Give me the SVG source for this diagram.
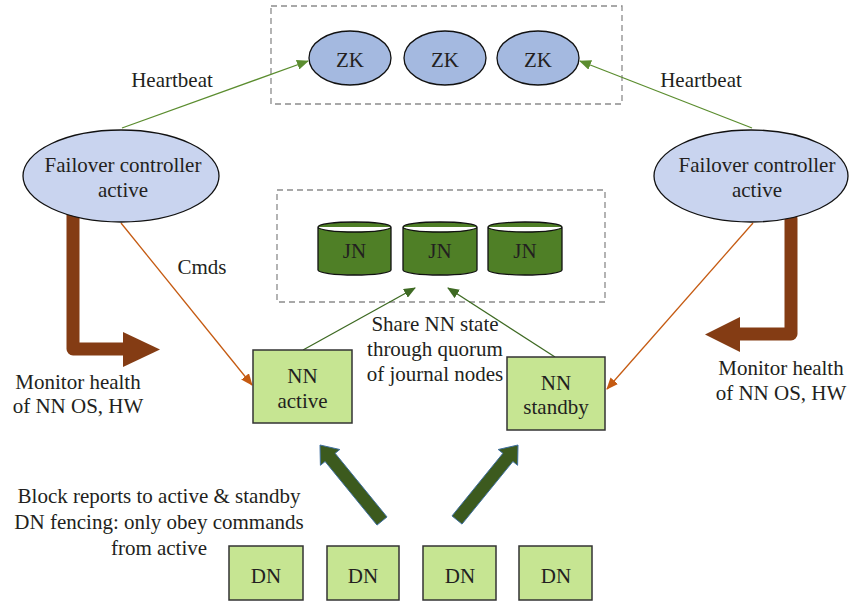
<svg xmlns="http://www.w3.org/2000/svg" width="849" height="603" viewBox="0 0 849 603">
<defs>
<style>
text{font-family:"Liberation Serif","DejaVu Serif",serif;font-size:21px;fill:#231f20;text-anchor:middle}
.dash{fill:none;stroke:#8c8c8c;stroke-width:1.3;stroke-dasharray:6,4}
.zk{fill:#a4b9e0;stroke:#111;stroke-width:1.3}
.fc{fill:#c9d4ef;stroke:#111;stroke-width:1.3}
.box{fill:#c6e592;stroke:#333;stroke-width:1.5}
.jn{fill:#4f7f26;stroke:#111;stroke-width:1.3}
.hb{fill:none;stroke:#5b8d2f;stroke-width:1.3}
.sh{fill:none;stroke:#3e6a23;stroke-width:1.3}
.cm{fill:none;stroke:#c55a11;stroke-width:1.3}
.br{fill:none;stroke:#843c14;stroke-width:13;stroke-linejoin:round;stroke-linecap:round}
.brh{fill:#843c14}
.fat{fill:#3c5a1e;stroke:#3f6fa0;stroke-width:1}
</style>
<marker id="mHb" markerWidth="12" markerHeight="10" refX="11" refY="5" orient="auto" markerUnits="userSpaceOnUse"><path d="M0,0 L12,5 L0,10 z" fill="#5b8d2f"/></marker>
<marker id="mSh" markerWidth="12" markerHeight="10" refX="11" refY="5" orient="auto" markerUnits="userSpaceOnUse"><path d="M0,0 L12,5 L0,10 z" fill="#3e6a23"/></marker>
<marker id="mCm" markerWidth="12" markerHeight="10" refX="11" refY="5" orient="auto" markerUnits="userSpaceOnUse"><path d="M0,0 L12,5 L0,10 z" fill="#c55a11"/></marker>
</defs>
<rect width="849" height="603" fill="#fff"/>

<g id="zk-cluster">
<rect class="dash" x="271" y="6" width="351" height="98"/>
</g>
<g id="jn-cluster">
<rect class="dash" x="277" y="190" width="328" height="112"/>
</g>

<g id="connectors">
<line class="hb" x1="122" y1="128" x2="308" y2="61" marker-end="url(#mHb)"/>
<line class="hb" x1="752" y1="128" x2="580" y2="61" marker-end="url(#mHb)"/>
<line class="cm" x1="121" y1="223" x2="252" y2="385" marker-end="url(#mCm)"/>
<line class="cm" x1="753" y1="223" x2="607" y2="389" marker-end="url(#mCm)"/>
<line class="sh" x1="303" y1="350" x2="415" y2="288" marker-end="url(#mSh)"/>
<line class="sh" x1="555" y1="357" x2="448" y2="288" marker-end="url(#mSh)"/>
<path class="br" d="M73,215 V349 H125"/>
<polygon class="brh" points="123,332 160,349.5 123,367"/>
<path class="br" d="M791,219 V334 H738"/>
<polygon class="brh" points="740,317 705,334.5 740,352"/>
<polygon class="fat" points="387,516.9 335.1,453.3 339.8,449.5 320,445 320.4,465.3 325.1,461.5 377,525.1"/>
<polygon class="fat" points="462,524.1 512.9,461.5 517.6,465.3 518,445 498.2,449.5 502.9,453.3 452,515.9"/>
</g>

<g id="zk1"><ellipse class="zk" cx="350" cy="58" rx="41" ry="27"/><text x="350" y="67">ZK</text></g>
<g id="zk2"><ellipse class="zk" cx="445" cy="58" rx="41" ry="27"/><text x="445" y="67">ZK</text></g>
<g id="zk3"><ellipse class="zk" cx="538" cy="58" rx="41" ry="27"/><text x="538" y="67">ZK</text></g>

<g id="fc-left"><ellipse class="fc" cx="121" cy="176" rx="98" ry="46"/><text x="123" y="172">Failover controller</text><text x="123" y="197">active</text></g>
<g id="fc-right"><ellipse class="fc" cx="751" cy="176" rx="97" ry="46"/><text x="757" y="172">Failover controller</text><text x="757" y="197">active</text></g>

<g id="jn1"><path class="jn" d="M318,227 a36.5,5 0 0 1 73,0 v43 a36.5,5 0 0 1 -73,0 z M318,227 a36.5,5 0 0 0 73,0"/><text x="354.5" y="258">JN</text></g>
<g id="jn2"><path class="jn" d="M403,227 a37,5 0 0 1 74,0 v43 a37,5 0 0 1 -74,0 z M403,227 a37,5 0 0 0 74,0"/><text x="440" y="258">JN</text></g>
<g id="jn3"><path class="jn" d="M488,227 a37,5 0 0 1 74,0 v43 a37,5 0 0 1 -74,0 z M488,227 a37,5 0 0 0 74,0"/><text x="525" y="258">JN</text></g>

<g id="nn-active"><rect class="box" x="253" y="350" width="99" height="73"/><text x="302.5" y="383">NN</text><text x="302.5" y="408">active</text></g>
<g id="nn-standby"><rect class="box" x="507" y="357" width="98" height="73"/><text x="556" y="390">NN</text><text x="556" y="414">standby</text></g>

<g id="dn1"><rect class="box" x="229" y="546" width="74" height="54"/><text x="266" y="583">DN</text></g>
<g id="dn2"><rect class="box" x="327" y="546" width="72" height="54"/><text x="363" y="583">DN</text></g>
<g id="dn3"><rect class="box" x="423" y="546" width="73" height="54"/><text x="460" y="583">DN</text></g>
<g id="dn4"><rect class="box" x="519" y="546" width="73" height="54"/><text x="556" y="583">DN</text></g>

<g id="labels">
<text x="172" y="87">Heartbeat</text>
<text x="701" y="87">Heartbeat</text>
<text x="202" y="274">Cmds</text>
<text x="78" y="389">Monitor health</text>
<text x="78" y="413">of NN OS, HW</text>
<text x="781" y="375">Monitor health</text>
<text x="781" y="400">of NN OS, HW</text>
<text x="435" y="331">Share NN state</text>
<text x="435" y="356">through quorum</text>
<text x="435" y="381">of journal nodes</text>
<text x="159" y="503">Block reports to active &amp; standby</text>
<text x="159" y="529">DN fencing: only obey commands</text>
<text x="159" y="555">from active</text>
</g>
</svg>
